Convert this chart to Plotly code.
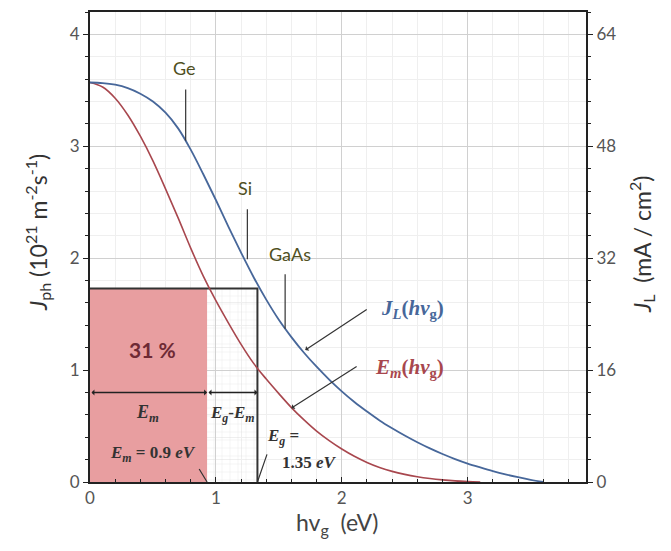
import plotly.graph_objects as go

# ---- data ----
x_jl = [0, 0.1, 0.2, 0.3, 0.4, 0.5, 0.6, 0.7, 0.8, 0.9, 1.0, 1.1, 1.2, 1.3, 1.4, 1.5, 1.6,
        1.7, 1.8, 1.9, 2.0, 2.1, 2.2, 2.3, 2.4, 2.5, 2.6, 2.7, 2.8, 2.9, 3.0, 3.1, 3.2, 3.3,
        3.4, 3.5, 3.6]
y_jl = [3.57, 3.565, 3.55, 3.52, 3.47, 3.40, 3.30, 3.16, 2.97, 2.75, 2.52, 2.28, 2.05, 1.83,
        1.63, 1.45, 1.295, 1.155, 1.03, 0.915, 0.81, 0.715, 0.63, 0.55, 0.48, 0.415, 0.355,
        0.30, 0.25, 0.205, 0.165, 0.13, 0.097, 0.068, 0.043, 0.02, 0.0]

x_em = [0, 0.1, 0.2, 0.3, 0.4, 0.5, 0.6, 0.7, 0.8, 0.9, 1.0, 1.1, 1.2, 1.3, 1.4, 1.5, 1.6,
        1.7, 1.8, 1.9, 2.0, 2.1, 2.2, 2.3, 2.4, 2.5, 2.6, 2.7, 2.8, 2.9, 3.0, 3.1]
y_em = [3.57, 3.53, 3.43, 3.28, 3.09, 2.87, 2.62, 2.36, 2.09, 1.84, 1.62, 1.42, 1.23, 1.06,
        0.92, 0.79, 0.665, 0.555, 0.455, 0.37, 0.295, 0.23, 0.175, 0.13, 0.095, 0.068, 0.047,
        0.031, 0.019, 0.010, 0.004, 0.0]

em_value = 0.93      # E_m (drawn edge of the 31 % area)
eg_value = 1.33      # E_g
jph_at_eg = 1.73     # J_ph at E_g
arrow_level = 0.80

left_ticks = [0, 1, 2, 3, 4]
right_ticks = [0, 16, 32, 48, 64]
x_ticks = [0, 1, 2, 3]
scale_ratio = 16     # J_L (mA/cm2) per 1e21 m^-2 s^-1

BLUE = "#47679a"
RED = "#a8474e"
FILL = "#e89ea0"
OLIVE = "#4f4f22"
TICKC = "#555555"
SANS = "Lato, Open Sans, sans-serif"
SERIF = "Liberation Serif, DejaVu Serif, serif"

# plot area in page pixels (page has an 8px body margin)
PL, PR, PT, PB = 90, 586, 10, 482
def px(xp):
    return (xp - PL) / (PR - PL)
def py(yp):
    return (PB - yp) / (PB - PT)

fig = go.Figure()

# red area (E_m share)
fig.add_trace(go.Scatter(
    x=[0, em_value, em_value, 0, 0], y=[0, 0, jph_at_eg, jph_at_eg, 0],
    fill="toself", fillcolor=FILL, mode="none", hoverinfo="skip", showlegend=False))
# hatched area (E_g - E_m)
fig.add_trace(go.Scatter(
    x=[em_value, eg_value, eg_value, em_value, em_value], y=[0, 0, jph_at_eg, jph_at_eg, 0],
    fill="toself", fillcolor="rgba(255,255,255,0)", mode="none", hoverinfo="skip",
    fillpattern=dict(shape="+", size=8, fgcolor="#cfcfcf", solidity=0.1),
    showlegend=False))
# outline of the rectangle
fig.add_trace(go.Scatter(
    x=[0, eg_value, eg_value], y=[jph_at_eg, jph_at_eg, 0],
    mode="lines", line=dict(color="#333333", width=2), hoverinfo="skip", showlegend=False))

fig.add_trace(go.Scatter(x=x_em, y=y_em, mode="lines", line=dict(color=RED, width=1.6, shape="spline"),
                         showlegend=False))
fig.add_trace(go.Scatter(x=x_jl, y=y_jl, mode="lines", line=dict(color=BLUE, width=1.8, shape="spline"),
                         showlegend=False))
# right-axis companion (J_L in mA/cm2)
fig.add_trace(go.Scatter(x=x_jl, y=[v * scale_ratio for v in y_jl], yaxis="y2", mode="lines",
                         line=dict(color=BLUE, width=0), opacity=0, hoverinfo="skip", showlegend=False))

ann = []
def line_ann(x, y, ax, ay, head=0, side="end"):
    ann.append(dict(x=x, y=y, ax=ax, ay=ay, xref="x", yref="y", axref="x", ayref="y",
                    showarrow=True, arrowhead=head, arrowsize=0.8, arrowwidth=1.2,
                    arrowcolor="#333333", arrowside=side, text=""))

def txt(x, y, t, size, color, family=SANS):
    ann.append(dict(x=x, y=y, xref="x", yref="y", text=t, showarrow=False,
                    xanchor="center", yanchor="middle",
                    font=dict(size=size, color=color, family=family)))

# material markers
txt(0.75, 3.70, "Ge", 18, OLIVE)
line_ann(0.76, 3.05, 0.76, 3.52)
txt(1.23, 2.63, "Si", 18, OLIVE)
line_ann(1.25, 1.99, 1.25, 2.45)
txt(1.59, 2.04, "GaAs", 18, OLIVE)
line_ann(1.55, 1.37, 1.55, 1.87)

# curve labels
txt(2.56, 1.55, "<b><i>J<sub>L</sub></i>(<i>hv</i><sub>g</sub>)</b>", 21, BLUE, SERIF)
line_ann(1.71, 1.18, 2.21, 1.55, head=1)
txt(2.54, 1.02, "<b><i>E<sub>m</sub></i>(<i>hv</i><sub>g</sub>)</b>", 21, RED, SERIF)
line_ann(1.60, 0.66, 2.13, 1.04, head=1)

# rectangle texts
txt(0.50, 1.18, "<b>31 %</b>", 21, "#6e2a35")
ann.append(dict(x=em_value, y=arrow_level, ax=0, ay=arrow_level, xref="x", yref="y", axref="x",
                ayref="y", showarrow=True, arrowhead=1, arrowsize=0.7, arrowwidth=1.4,
                arrowcolor="#222222", arrowside="end+start", text=""))
ann.append(dict(x=eg_value, y=arrow_level, ax=em_value, ay=arrow_level, xref="x", yref="y",
                axref="x", ayref="y", showarrow=True, arrowhead=1, arrowsize=0.7, arrowwidth=1.4,
                arrowcolor="#222222", arrowside="end+start", text=""))
txt(0.46, 0.61, "<b><i>E<sub>m</sub></i></b>", 18, "#333333", SERIF)
txt(1.13, 0.61, "<b><i>E<sub>g</sub></i>-<i>E<sub>m</sub></i></b>", 17, "#333333", SERIF)
txt(0.50, 0.25, "<b><i>E<sub>m</sub></i> = 0.9 <i>eV</i></b>", 17, "#333333", SERIF)
line_ann(em_value, 0.0, 0.86, 0.13)
txt(1.53, 0.40, "<b><i>E<sub>g</sub></i> =</b>", 17, "#333333", SERIF)
txt(1.74, 0.17, "<b>1.35 <i>eV</i></b>", 17, "#333333", SERIF)
line_ann(eg_value, 0.0, 1.41, 0.26)

# axis titles
ann.append(dict(xref="paper", yref="paper", x=px(37), y=py(232), showarrow=False, textangle=-90,
                xanchor="center", yanchor="middle",
                text="<i>J</i><sub>ph</sub> (10<sup>21</sup> m<sup>-2</sup>s<sup>-1</sup>)",
                font=dict(size=23, color="#333333", family=SANS)))
ann.append(dict(xref="paper", yref="paper", x=px(641), y=py(243), showarrow=False, textangle=-90,
                xanchor="center", yanchor="middle",
                text="<i>J</i><sub>L</sub>  (mA / cm<sup>2</sup>)",
                font=dict(size=23, color="#333333", family=SANS)))
ann.append(dict(xref="paper", yref="paper", x=px(337), y=py(524), showarrow=False,
                xanchor="center", yanchor="middle",
                text="hv<sub>g</sub>  (eV)", font=dict(size=23, color="#444444", family=SANS)))

axis_common = dict(showline=True, linecolor="#222222", linewidth=2, mirror=True,
                   gridcolor="#d0d0d0", gridwidth=1, zeroline=False,
                   tickfont=dict(family=SANS, size=17, color=TICKC))

W, H = 660, 540
fig.update_layout(
    width=W, height=H,
    margin=dict(l=PL - 8, r=W + 8 - PR, t=PT - 8, b=H + 8 - PB),
    paper_bgcolor="white", plot_bgcolor="white", showlegend=False,
    xaxis=dict(range=[0, 3.94], tickvals=x_ticks, ticks="inside", ticklen=5, tickcolor="#222222",
               minor=dict(dtick=0.2, tick0=0, ticks="inside", ticklen=3, tickcolor="#222222",
                          showgrid=True, gridcolor="#efefef"), **axis_common),
    yaxis=dict(range=[0, 4.2], tickvals=left_ticks, ticks="outside", ticklen=5, tickcolor="#222222",
               minor=dict(dtick=0.2, tick0=0, ticks="outside", ticklen=3, tickcolor="#222222",
                          showgrid=True, gridcolor="#efefef"), **axis_common),
    yaxis2=dict(range=[0, 4.2 * scale_ratio], tickvals=right_ticks, overlaying="y", side="right",
                ticks="outside", ticklen=5, tickcolor="#222222", showgrid=False, showline=True,
                linecolor="#222222", linewidth=2, zeroline=False,
                tickfont=dict(family=SANS, size=17, color=TICKC),
                minor=dict(dtick=3.2, tick0=0, ticks="outside", ticklen=3, tickcolor="#222222")),
    annotations=ann,
)

fig.write_html("out.html")
